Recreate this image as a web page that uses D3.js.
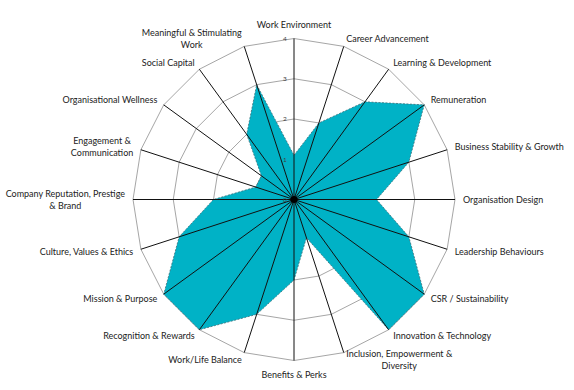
<!DOCTYPE html>
<html>
<head>
<meta charset="utf-8">
<script src="https://cdn.jsdelivr.net/npm/d3@7"></script>
<style>
  html, body { margin: 0; padding: 0; background: #fff; }
  svg { display: block; }
</style>
</head>
<body>
<div id="chart"></div>
<script>
(function () {
  "use strict";

  const categories = [
    "Work Environment", "Career Advancement", "Learning & Development", "Remuneration",
    "Business Stability & Growth", "Organisation Design", "Leadership Behaviours",
    "CSR / Sustainability", "Innovation & Technology", "Inclusion, Empowerment &\nDiversity",
    "Benefits & Perks", "Work/Life Balance", "Recognition & Rewards", "Mission & Purpose",
    "Culture, Values & Ethics", "Company Reputation, Prestige\n& Brand",
    "Engagement &\nCommunication", "Organisational Wellness", "Social Capital",
    "Meaningful & Stimulating\nWork"
  ];
  const values = [1.1, 2.0, 3.0, 4.0, 3.0, 2.05, 3.0, 4.0, 4.0, 1.0,
                  2.0, 3.0, 4.0, 4.0, 3.0, 2.0, 1.0, 1.0, 2.0, 3.0];
  const ticks = [0, 1, 2, 3, 4];

  const WIDTH = 574, HEIGHT = 390;
  const CX = 294, CY = 199.5, R = 161;
  const FILL = "#00B2C6";
  const GRID = "#a6a6a6";
  const FONT = "Lato, 'Open Sans', sans-serif";

  const svg = d3.select("#chart").append("svg")
    .attr("width", WIDTH).attr("height", HEIGHT);
  svg.append("rect").attr("width", WIDTH).attr("height", HEIGHT).attr("fill", "#fff");

  const g = svg.append("g").attr("transform", "translate(" + CX + "," + CY + ")");

  const r = d3.scaleLinear().domain([0, d3.max(ticks)]).range([0, R]);
  const step = 2 * Math.PI / categories.length;
  const angles = categories.map(function (c, i) { return i * step; });

  /* grid rings */
  const ring = d3.lineRadial()
    .angle(function (d) { return d; })
    .curve(d3.curveLinearClosed);
  g.append("g").selectAll("path")
    .data(ticks.filter(function (t) { return t > 0; }))
    .enter().append("path")
    .attr("d", function (t) { return ring.radius(r(t))(angles); })
    .attr("fill", "none")
    .attr("stroke", GRID)
    .attr("stroke-width", 1);

  /* series area */
  const area = d3.lineRadial()
    .angle(function (d, i) { return angles[i]; })
    .radius(function (d) { return r(d); })
    .curve(d3.curveLinearClosed);
  g.append("path")
    .datum(values)
    .attr("d", area)
    .attr("fill", FILL)
    .attr("stroke", "#3d6f78")
    .attr("stroke-width", 0.8)
    .attr("stroke-dasharray", "2,1.5");

  /* spokes */
  g.append("g").selectAll("line")
    .data(angles)
    .enter().append("line")
    .attr("x1", 0).attr("y1", 0)
    .attr("x2", function (a) { return r(4) * Math.sin(a); })
    .attr("y2", function (a) { return -r(4) * Math.cos(a); })
    .attr("stroke", "#111")
    .attr("stroke-width", 1);

  g.append("circle").attr("r", 3.5).attr("fill", "#000");

  /* tick labels */
  g.append("g").selectAll("text")
    .data(ticks)
    .enter().append("text")
    .attr("x", -9)
    .attr("y", function (t) { return -r(t); })
    .attr("dy", "0.35em")
    .attr("text-anchor", "middle")
    .attr("font-family", FONT)
    .attr("font-size", 6.5)
    .attr("fill", "#404040")
    .text(function (t) { return t; });

  /* category labels */
  const LINE_H = 12;
  categories.forEach(function (c, i) {
    const a = angles[i];
    const s = Math.sin(a), co = Math.cos(a);
    const px = r(4) * s, py = -r(4) * co;
    let lx = px + s * 8, ly = py - co * 8;
    let align = "start";
    if (Math.abs(s) < 0.05) { align = "middle"; ly -= co * 6; }
    else if (s < 0) align = "end";

    const lines = c.split("\n");
    const lg = g.append("g");
    const texts = lines.map(function (t) {
      return lg.append("text")
        .attr("font-family", FONT)
        .attr("font-size", 9)
        .attr("fill", "#222")
        .attr("text-anchor", "middle")
        .text(t);
    });
    const w = d3.max(texts, function (t) { return t.node().getComputedTextLength(); });
    let centerX = lx;
    if (align === "start") centerX = lx + w / 2;
    if (align === "end") centerX = lx - w / 2;
    const top = ly - (lines.length - 1) * LINE_H / 2;
    texts.forEach(function (t, k) {
      t.attr("x", centerX).attr("y", top + k * LINE_H).attr("dy", "0.35em");
    });
  });
})();
</script>
</body>
</html>
